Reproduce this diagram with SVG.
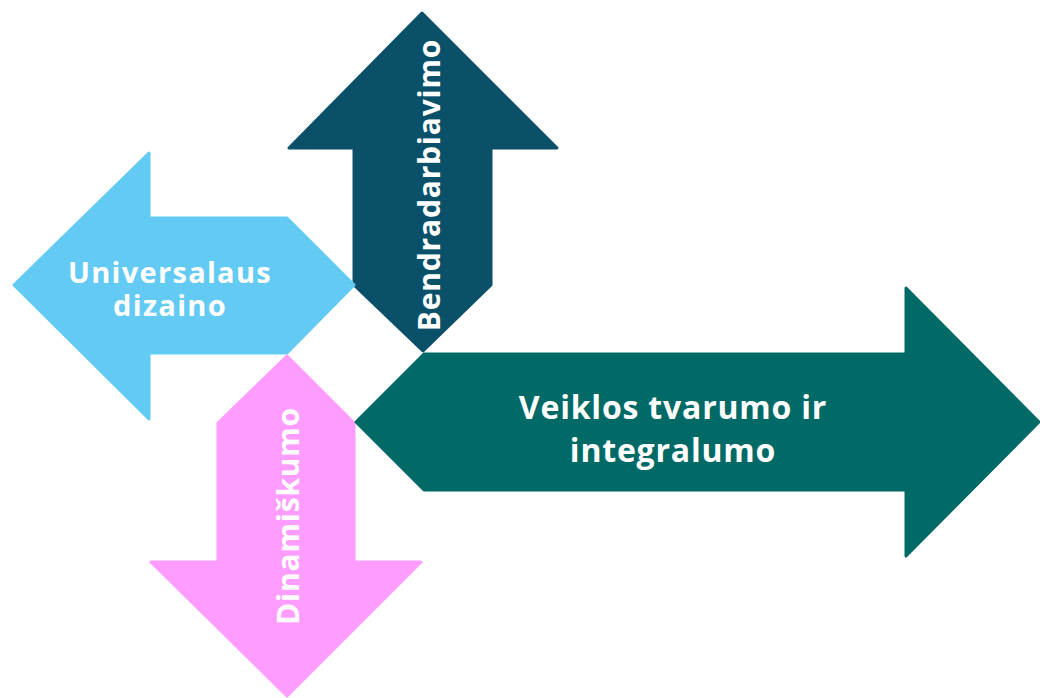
<svg xmlns="http://www.w3.org/2000/svg" width="1040" height="698" viewBox="0 0 1040 698">
<style>
.a{stroke-linejoin:round;stroke-width:3}
.t{font-family:"Open Sans","Liberation Sans",sans-serif;font-weight:bold;fill:#fff;text-anchor:middle;letter-spacing:0.8px}
</style>
<rect width="1040" height="698" fill="#fff"/>
<g id="node-bendradarbiavimo">
<path class="a" fill="#0A5068" stroke="#0A5068" d="M422,13 L557,148 L491,148 L491,285 L423,351 L354,285 L354,148 L289,148 Z"/>
<text class="t" font-size="30" transform="translate(440,185) rotate(-90)">Bendradarbiavimo</text>
</g>
<g id="node-universalaus">
<path class="a" fill="#63CBF3" stroke="#63CBF3" d="M14,285 L149,153 L149,218 L287,218 L354,285 L287,353 L149,353 L149,419 Z"/>
<text class="t" font-size="29" style="letter-spacing:1.3px"><tspan x="170" y="283">Universalaus</tspan><tspan x="170" y="316">dizaino</tspan></text>
</g>
<g id="node-dinamiskumo">
<path class="a" fill="#FF9CFF" stroke="#FF9CFF" d="M287,356 L354,423 L354,562 L421,562 L287,696 L151,562 L218,562 L218,423 Z"/>
<text class="t" font-size="30" transform="translate(299,516) rotate(-90)">Dinamiškumo</text>
</g>
<g id="node-veiklos">
<path class="a" fill="#016A67" stroke="#016A67" d="M356,422 L424,354 L906,354 L906,288 L1039,422 L906,556 L906,490 L424,490 Z"/>
<text class="t" font-size="32"><tspan x="673" y="419">Veiklos tvarumo ir</tspan><tspan x="673" y="462">integralumo</tspan></text>
</g>
<g id="connectors"></g>
</svg>
